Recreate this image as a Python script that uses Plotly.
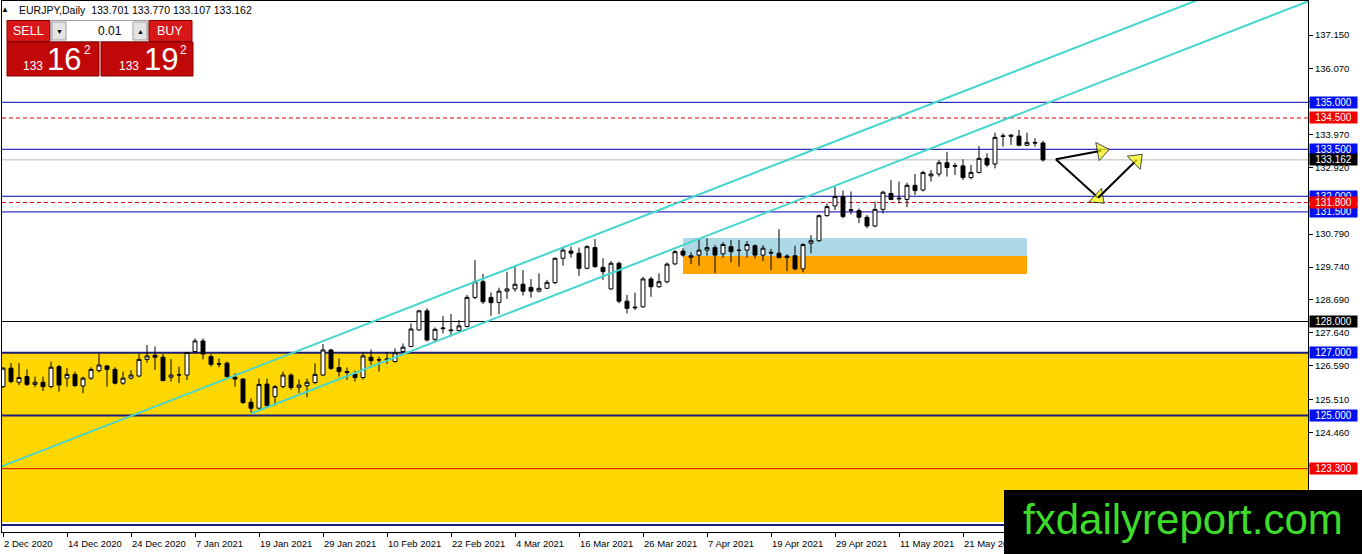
import plotly.graph_objects as go

# daily bars, 2 Dec 2020 .. 4 Jun 2021 (bar index on the x axis)
bars = list(range(131))
opens = [125.92, 126.51, 126.06, 126.24, 125.99, 126.06, 125.92, 126.56, 126.19, 126.31,
         125.94, 126.19, 126.43, 126.58, 126.47, 126.03, 126.19, 126.26, 126.79, 126.92,
         126.86, 126.22, 126.29, 126.29, 127.04, 127.38, 126.88, 126.65, 126.67, 126.22,
         126.16, 125.42, 125.23, 126.00, 125.60, 125.92, 126.29, 125.90, 125.95, 126.05,
         126.29, 127.09, 126.53, 126.40, 126.32, 126.21, 126.86, 126.78, 126.77, 126.72,
         127.04, 127.20, 127.73, 128.34, 127.43, 127.77, 127.73, 127.71, 127.84, 128.77,
         129.27, 128.77, 128.61, 128.97, 129.04, 129.19, 129.09, 128.97, 129.06, 129.24,
         130.02, 130.25, 130.18, 129.70, 130.36, 129.73, 129.04, 129.86, 128.65, 128.46,
         128.47, 129.36, 129.11, 129.27, 129.84, 130.25, 130.05, 130.12, 130.28, 130.36,
         130.16, 130.39, 130.28, 130.28, 130.42, 130.12, 130.21, 130.18, 130.09, 130.10,
         129.68, 130.50, 130.58, 131.38, 131.69, 131.99, 131.57, 131.54, 131.33, 131.05,
         131.58, 132.09, 131.94, 131.90, 132.35, 132.20, 132.65, 132.71, 133.07, 132.98,
         132.97, 132.60, 132.76, 133.21, 133.03, 133.93, 133.95, 133.92, 133.63, 133.72,
         133.701]
highs = [126.54, 126.67, 126.67, 126.47, 126.24, 126.24, 126.72, 126.61, 126.51, 126.40,
         126.24, 126.54, 126.98, 126.61, 126.54, 126.40, 126.45, 126.98, 127.25, 127.20,
         126.96, 126.80, 126.56, 127.03, 127.46, 127.46, 126.96, 126.82, 126.72, 126.35,
         126.19, 125.55, 126.18, 126.18, 125.97, 126.40, 126.34, 126.15, 126.18, 126.66,
         127.28, 127.13, 126.82, 126.53, 126.43, 127.00, 127.11, 126.88, 127.02, 127.14,
         127.30, 127.94, 128.37, 128.42, 127.81, 128.18, 128.24, 128.05, 128.85, 129.96,
         129.52, 128.93, 129.08, 129.59, 129.75, 129.64, 129.36, 129.54, 129.33, 130.04,
         130.39, 130.39, 130.36, 130.44, 130.63, 130.02, 129.93, 129.91, 128.85, 128.92,
         129.43, 129.43, 129.54, 129.89, 130.28, 130.34, 130.21, 130.66, 130.66, 130.44,
         130.53, 130.60, 130.60, 130.57, 130.46, 130.44, 130.32, 130.95, 130.15, 130.42,
         130.50, 130.76, 131.42, 131.77, 132.31, 132.18, 132.15, 131.61, 131.40, 131.83,
         132.17, 132.52, 132.47, 132.43, 132.71, 132.82, 132.84, 133.16, 133.42, 133.07,
         133.18, 133.00, 133.60, 133.37, 134.03, 134.01, 133.99, 134.12, 134.03, 133.85,
         133.770]
lows = [125.87, 126.03, 125.97, 125.94, 125.90, 125.78, 125.87, 125.76, 125.92, 125.92,
        125.71, 126.13, 126.37, 125.92, 125.99, 125.97, 126.15, 126.22, 126.69, 126.45,
        126.10, 126.08, 126.03, 126.13, 126.98, 126.79, 126.56, 126.54, 126.22, 125.92,
        125.37, 125.08, 125.20, 125.28, 125.31, 125.87, 125.81, 125.71, 125.58, 126.00,
        126.26, 126.45, 126.24, 126.13, 126.08, 126.15, 126.61, 126.40, 126.64, 126.69,
        127.00, 127.18, 127.71, 127.36, 127.36, 127.62, 127.52, 127.68, 127.81, 128.71,
        128.56, 128.18, 128.23, 128.72, 128.95, 128.83, 128.76, 128.93, 129.04, 129.19,
        129.78, 130.04, 129.46, 129.67, 129.72, 129.33, 129.01, 128.58, 128.26, 128.37,
        128.44, 128.79, 129.08, 129.22, 129.80, 130.07, 129.83, 129.78, 130.10, 129.54,
        130.04, 129.89, 129.75, 130.04, 130.02, 129.93, 129.64, 130.02, 129.61, 129.64,
        129.57, 130.18, 130.55, 131.35, 131.56, 131.30, 131.42, 131.14, 130.98, 131.01,
        131.45, 131.88, 131.77, 131.65, 132.04, 132.15, 132.47, 132.63, 132.63, 132.68,
        132.52, 132.54, 132.73, 132.94, 132.89, 133.58, 133.64, 133.60, 133.61, 133.58,
        133.107]
closes = [126.51, 126.08, 126.21, 125.99, 126.06, 125.92, 126.54, 125.97, 126.31, 125.95,
          126.19, 126.47, 126.61, 126.47, 126.03, 126.19, 126.29, 126.79, 126.90, 126.86,
          126.11, 126.29, 126.30, 127.01, 127.38, 126.96, 126.63, 126.64, 126.24, 126.16,
          125.41, 125.23, 125.99, 125.31, 125.92, 126.29, 125.89, 125.97, 126.06, 126.31,
          127.09, 126.50, 126.40, 126.37, 126.21, 126.90, 126.75, 126.77, 126.80, 127.00,
          127.18, 127.76, 128.34, 127.41, 127.75, 127.79, 127.71, 127.86, 128.77, 129.27,
          128.63, 128.60, 128.97, 129.04, 129.19, 128.97, 128.97, 129.06, 129.25, 130.02,
          130.28, 130.18, 129.70, 130.39, 129.75, 129.59, 129.86, 128.65, 128.42, 128.44,
          129.36, 129.11, 129.27, 129.83, 130.23, 130.12, 130.10, 130.28, 130.36, 130.12,
          130.46, 130.23, 130.27, 130.46, 130.12, 130.34, 130.19, 130.04, 130.04, 129.68,
          130.46, 130.58, 131.38, 131.67, 131.99, 131.35, 131.55, 131.33, 131.05, 131.58,
          132.13, 131.90, 131.92, 132.35, 132.18, 132.76, 132.71, 133.07, 132.92, 132.96,
          132.60, 132.76, 133.21, 133.00, 133.88, 133.91, 133.92, 133.63, 133.72, 133.70,
          133.162]

date_ticks = [0, 8, 16, 24, 32, 40, 48, 56, 64, 72, 80, 88, 96, 104, 112, 120, 128]
date_labels = ["2 Dec 2020", "14 Dec 2020", "24 Dec 2020", "7 Jan 2021", "19 Jan 2021",
               "29 Jan 2021", "10 Feb 2021", "22 Feb 2021", "4 Mar 2021", "16 Mar 2021",
               "26 Mar 2021", "7 Apr 2021", "19 Apr 2021", "29 Apr 2021", "11 May 2021",
               "21 May 2021", "2 Jun 2021"]
price_ticks = [137.15, 136.07, 135.02, 133.97, 132.92, 131.86, 130.79, 129.74,
               128.69, 127.64, 126.59, 125.51, 124.46, 123.41]

# horizontal levels
blue_levels = [135.0, 133.5, 132.0, 131.5]
navy_levels = [127.0, 125.0, 121.5]
red_dash_levels = [134.5, 131.8]
red_levels = [123.3]
black_levels = [128.0]
bid_price = 133.162

# zones: (bar from, bar to, price low, price high)
support_zone = [121.6, 127.0]
blue_box = [85, 128, 130.09, 130.67]
orange_box = [85, 128, 129.52, 130.09]

# channel lines (bar, price anchors)
upper_ch_x = [-1, 160]
upper_ch_y = [123.29, 139.33]
lower_ch_x = [31, 170]
lower_ch_y = [125.06, 138.91]

# projected path arrows
arrow_paths = [
    ([131.6, 137.3], [133.18, 133.45]),
    ([131.6, 136.9], [133.18, 131.95]),
    ([136.9, 141.7], [131.95, 133.16]),
]

FONT = "Liberation Sans"
X_RANGE = [-0.125, 163.125]
Y_RANGE = [121.277, 138.236]


def fx(p):
    return (p - 2) / 1306


def fy(p):
    return (532 - p) / 531


fig = go.Figure()

fig.add_trace(go.Candlestick(
    x=bars, open=opens, high=highs, low=lows, close=closes,
    increasing=dict(fillcolor="white", line=dict(color="black", width=1)),
    decreasing=dict(fillcolor="black", line=dict(color="black", width=1)),
    whiskerwidth=0, showlegend=False, hoverinfo="skip"))

for xs, ys in [(upper_ch_x, upper_ch_y), (lower_ch_x, lower_ch_y)]:
    fig.add_trace(go.Scatter(x=xs, y=ys, mode="lines", showlegend=False,
                             line=dict(color="#46d6cc", width=2), hoverinfo="skip"))

for xs, ys in arrow_paths:
    fig.add_trace(go.Scatter(x=xs, y=ys, mode="lines+markers", showlegend=False,
                             line=dict(color="black", width=2), hoverinfo="skip",
                             marker=dict(symbol="triangle-up", size=[0, 16], angleref="previous",
                                         color="#f5f500", line=dict(color="black", width=1))))

shapes = []
# yellow support zone
shapes.append(dict(type="rect", xref="paper", yref="y", x0=0, x1=1,
                   y0=support_zone[0], y1=support_zone[1], fillcolor="#ffd700",
                   line=dict(width=0), layer="below"))
for box, col in [(blue_box, "#add8e6"), (orange_box, "#ffa500")]:
    shapes.append(dict(type="rect", xref="x", yref="y", x0=box[0], x1=box[1],
                       y0=box[2], y1=box[3], fillcolor=col, line=dict(width=0), layer="below"))


def hline(v, color, width=1, dash="solid"):
    shapes.append(dict(type="line", xref="paper", yref="y", x0=0, x1=1, y0=v, y1=v,
                       line=dict(color=color, width=width, dash=dash), layer="below"))


for v in blue_levels:
    hline(v, "#0000b0")
for v in navy_levels:
    hline(v, "#1c1c7a", 2)
for v in red_dash_levels:
    hline(v, "#e00000", 1, "4px,3px")
for v in red_levels:
    hline(v, "#e00000")
for v in black_levels:
    hline(v, "black")
hline(bid_price, "#b8b8b8")

# trade panel
panel = [
    (7, 50, 20.5, 41.5, "#d81818"), (51, 148, 20.5, 41.5, "white"),
    (52, 66, 22, 40, "#e4e4e4"), (133, 147, 22, 40, "#e4e4e4"),
    (149, 192, 20.5, 41.5, "#d81818"),
    (7, 99, 42, 76, "#c00808"), (101, 193, 42, 76, "#c00808"),
]
for x0, x1, y0, y1, col in panel:
    shapes.append(dict(type="rect", xref="paper", yref="paper", x0=fx(x0), x1=fx(x1),
                       y0=fy(y1), y1=fy(y0), fillcolor=col,
                       line=dict(color="#8a0000" if col != "white" and col != "#e4e4e4" else "#a0a0a0", width=1),
                       layer="above"))
# watermark box
shapes.append(dict(type="rect", xref="paper", yref="paper", x0=fx(1004), x1=fx(1364),
                   y0=fy(556), y1=fy(490), fillcolor="black", line=dict(width=0), layer="above"))

annotations = []


def text_at(x, y, txt, size, color="black", anchor="center"):
    annotations.append(dict(x=fx(x), y=fy(y), xref="paper", yref="paper", text=txt,
                            showarrow=False, xanchor=anchor, yanchor="middle",
                            font=dict(family=FONT, size=size, color=color)))


text_at(5, 10, "▲", 8)
text_at(17, 10, "EURJPY,Daily  133.701 133.770 133.107 133.162", 10.5, anchor="left")
text_at(28, 31, "SELL", 12.5, "white")
text_at(170, 31, "BUY", 12.5, "white")
text_at(59, 31, "▼", 7)
text_at(140, 31, "▲", 7)
text_at(110, 31, "0.01", 12)
text_at(33, 66, "133", 12, "white")
text_at(64, 59, "16", 31, "white")
text_at(87, 50, "2", 12, "white")
text_at(129, 66, "133", 12, "white")
text_at(161, 59, "19", 31, "white")
text_at(183, 50, "2", 12, "white")
text_at(1183, 519, "fxdailyreport.com", 42, "#3ddc2a")

# price labels on the right axis
level_labels = [(135.0, "#0010f0"), (134.5, "#f00000"), (133.5, "#0010f0"), (bid_price, "black"),
                (132.0, "#0010f0"), (131.5, "#0010f0"), (131.8, "#f00000"), (128.0, "black"),
                (127.0, "#0010f0"), (125.0, "#0010f0"), (123.3, "#f00000")]
for v, col in level_labels:
    annotations.append(dict(x=1, xref="paper", xanchor="left", xshift=1, y=v, yref="y",
                            yanchor="middle", text=f"{v:.3f}", showarrow=False, bgcolor=col,
                            width=47, height=11, borderpad=0,
                            font=dict(family=FONT, size=10, color="white")))

fig.update_layout(
    width=1362, height=554, margin=dict(l=2, r=54, t=1, b=22),
    paper_bgcolor="white", plot_bgcolor="white", showlegend=False,
    shapes=shapes, annotations=annotations,
    font=dict(family=FONT, size=10, color="black"),
)
fig.update_xaxes(range=X_RANGE, rangeslider_visible=False, showgrid=False, zeroline=False,
                 tickvals=date_ticks, ticktext=date_labels, ticks="outside", ticklen=4,
                 tickcolor="black", ticklabelposition="outside right", ticklabelstandoff=3,
                 tickfont=dict(family=FONT, size=9.5), showline=True, linecolor="black",
                 linewidth=1, mirror=True)
fig.update_yaxes(range=Y_RANGE, side="right", showgrid=False, zeroline=False,
                 tickvals=price_ticks, ticktext=[f"{v:.3f}" for v in price_ticks],
                 ticks="outside", ticklen=4, tickcolor="black",
                 tickfont=dict(family=FONT, size=9.5), showline=True, linecolor="black",
                 linewidth=1, mirror=True)

fig.write_html("out.html", config={"displayModeBar": False},
               post_script="document.body.style.margin='0';document.body.style.padding='0';"
                           "document.body.style.overflow='hidden';")
